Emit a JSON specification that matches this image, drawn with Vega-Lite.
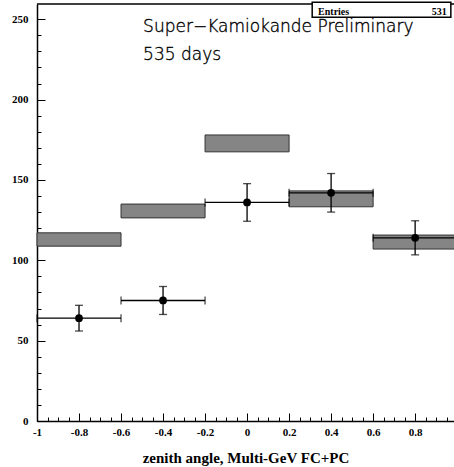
{
  "$schema": "https://vega.github.io/schema/vega-lite/v6.json",
  "width": 417,
  "height": 417,
  "autosize": "none",
  "padding": {"left": 37, "top": 4, "right": 0, "bottom": 46},
  "background": "white",
  "config": {"view": {"stroke": null}, "font": "Liberation Serif"},
  "data": {"values": [
    {"x": -0.8, "lo": -1, "hi": -0.6, "y": 64, "ylo": 56, "yhi": 72, "mclo": 108.8, "mchi": 117.1},
    {"x": -0.4, "lo": -0.6, "hi": -0.2, "y": 75, "ylo": 66.3, "yhi": 83.7, "mclo": 126.4, "mchi": 135},
    {"x": 0, "lo": -0.2, "hi": 0.2, "y": 136, "ylo": 124.3, "yhi": 147.7, "mclo": 167.5, "mchi": 178},
    {"x": 0.4, "lo": 0.2, "hi": 0.6, "y": 142, "ylo": 130, "yhi": 154, "mclo": 133.3, "mchi": 143.2},
    {"x": 0.8, "lo": 0.6, "hi": 1.0, "y": 114, "ylo": 103.4, "yhi": 124.6, "mclo": 107, "mchi": 115.7}
  ]},
  "layer": [
    {
      "mark": {"type": "rect", "fill": "#858585", "stroke": "#333333", "strokeWidth": 1},
      "encoding": {
        "x": {"field": "lo", "type": "quantitative",
          "scale": {"domain": [-1, 0.985], "nice": false, "zero": false},
          "axis": {"orient": "bottom", "values": [-1, -0.8, -0.6, -0.4, -0.2, 0, 0.2, 0.4, 0.6, 0.8],
            "labelExpr": "'' + datum.value", "ticks": false, "grid": false, "domain": true,
            "domainColor": "black", "domainWidth": 1.5, "labelFont": "Liberation Serif", "labelFontWeight": "bold",
            "labelFontSize": 11, "labelColor": "black", "labelPadding": 5, "labelFlush": false, "labelOverlap": false, "labelBound": false,
            "title": "zenith angle, Multi-GeV FC+PC", "titleFont": "Liberation Serif", "titleFontSize": 15,
            "titleFontWeight": "bold", "titleColor": "black", "titlePadding": 13}},
        "x2": {"field": "hi"},
        "y": {"field": "mclo", "type": "quantitative",
          "scale": {"domain": [0, 259.5], "nice": false, "zero": false},
          "axis": {"orient": "left", "values": [0, 50, 100, 150, 200, 250], "ticks": false, "grid": false, "domain": true,
            "domainColor": "black", "domainWidth": 1.5, "labelFont": "Liberation Serif", "labelFontWeight": "bold",
            "labelFontSize": 11, "labelColor": "black", "labelPadding": 9, "labelFlush": false, "labelOverlap": false, "labelBound": false,
            "title": null}},
        "y2": {"field": "mchi"}
      }
    },
    {
      "mark": {"type": "rule", "color": "black", "strokeWidth": 1.3},
      "encoding": {
        "x": {"field": "lo", "type": "quantitative",
          "axis": {"orient": "bottom", "values": [-1, -0.8, -0.6, -0.4, -0.2, 0, 0.2, 0.4, 0.6, 0.8],
            "labels": false, "domain": false, "ticks": true, "tickSize": -8, "tickColor": "black", "tickWidth": 1, "grid": false, "title": null}},
        "x2": {"field": "hi"},
        "y": {"field": "y", "type": "quantitative",
          "axis": {"orient": "left", "values": [0, 50, 100, 150, 200, 250],
            "labels": false, "domain": false, "ticks": true, "tickSize": -8, "tickColor": "black", "tickWidth": 1, "grid": false, "title": null}}
      }
    },
    {
      "mark": {"type": "rule", "color": "black", "strokeWidth": 1.3},
      "encoding": {
        "x": {"field": "x", "type": "quantitative",
          "axis": {"orient": "bottom", "values": [-1, -0.95, -0.9, -0.85, -0.8, -0.75, -0.7, -0.65, -0.6, -0.55, -0.5, -0.45, -0.4, -0.35, -0.3, -0.25, -0.2, -0.15, -0.1, -0.05, 0, 0.05, 0.1, 0.15, 0.2, 0.25, 0.3, 0.35, 0.4, 0.45, 0.5, 0.55, 0.6, 0.65, 0.7, 0.75, 0.8, 0.85, 0.9, 0.95],
            "labels": false, "domain": false, "ticks": true, "tickSize": -4, "tickColor": "black", "tickWidth": 1, "grid": false, "title": null}},
        "y": {"field": "ylo", "type": "quantitative",
          "axis": {"orient": "left", "values": [0, 10, 20, 30, 40, 50, 60, 70, 80, 90, 100, 110, 120, 130, 140, 150, 160, 170, 180, 190, 200, 210, 220, 230, 240, 250],
            "labels": false, "domain": false, "ticks": true, "tickSize": -4, "tickColor": "black", "tickWidth": 1, "grid": false, "title": null}},
        "y2": {"field": "yhi"}
      }
    },
    {
      "mark": {"type": "tick", "orient": "horizontal", "color": "black", "size": 8, "thickness": 1.3},
      "encoding": {
        "x": {"field": "x", "type": "quantitative", "axis": null},
        "y": {"field": "yhi", "type": "quantitative", "axis": null}
      }
    },
    {
      "mark": {"type": "tick", "orient": "horizontal", "color": "black", "size": 8, "thickness": 1.3},
      "encoding": {
        "x": {"field": "x", "type": "quantitative", "axis": null},
        "y": {"field": "ylo", "type": "quantitative", "axis": null}
      }
    },
    {
      "mark": {"type": "tick", "orient": "vertical", "color": "black", "size": 8, "thickness": 1.3},
      "encoding": {
        "x": {"field": "lo", "type": "quantitative", "axis": null},
        "y": {"field": "y", "type": "quantitative", "axis": null}
      }
    },
    {
      "mark": {"type": "tick", "orient": "vertical", "color": "black", "size": 8, "thickness": 1.3},
      "encoding": {
        "x": {"field": "hi", "type": "quantitative", "axis": null},
        "y": {"field": "y", "type": "quantitative", "axis": null}
      }
    },
    {
      "mark": {"type": "point", "shape": "circle", "filled": true, "color": "black", "opacity": 1, "size": 60},
      "encoding": {
        "x": {"field": "x", "type": "quantitative", "axis": null},
        "y": {"field": "y", "type": "quantitative", "axis": null}
      }
    },
    {
      "data": {"values": [{}]},
      "mark": {"type": "rule", "color": "black", "strokeWidth": 1.5},
      "encoding": {
        "x": {"datum": -1, "type": "quantitative", "axis": null},
        "x2": {"datum": 0.985},
        "y": {"datum": 259.5, "type": "quantitative", "axis": null}
      }
    },
    {
      "data": {"values": [{}]},
      "mark": {"type": "rect", "fill": "white", "stroke": "black", "strokeWidth": 1.5},
      "encoding": {
        "x": {"datum": 0.31, "type": "quantitative", "axis": null},
        "x2": {"datum": 0.97},
        "y": {"datum": 260.6, "type": "quantitative", "axis": null},
        "y2": {"datum": 251.2}
      }
    },
    {
      "data": {"values": [{}]},
      "mark": {"type": "text", "text": "Entries", "align": "left", "baseline": "alphabetic", "font": "Liberation Serif", "fontWeight": "bold", "fontSize": 10, "color": "black"},
      "encoding": {
        "x": {"datum": 0.338, "type": "quantitative", "axis": null},
        "y": {"datum": 252.8, "type": "quantitative", "axis": null}
      }
    },
    {
      "data": {"values": [{}]},
      "mark": {"type": "text", "text": "531", "align": "right", "baseline": "alphabetic", "font": "Liberation Serif", "fontWeight": "bold", "fontSize": 10, "color": "black"},
      "encoding": {
        "x": {"datum": 0.951, "type": "quantitative", "axis": null},
        "y": {"datum": 252.8, "type": "quantitative", "axis": null}
      }
    },
    {
      "data": {"values": [{}]},
      "mark": {"type": "text", "text": "Super−Kamiokande Preliminary", "align": "left", "baseline": "alphabetic", "font": "DejaVu Sans", "fontWeight": 200, "fontSize": 17, "color": "black", "stroke": "black", "strokeWidth": 0.35},
      "encoding": {
        "x": {"datum": -0.495, "type": "quantitative", "axis": null},
        "y": {"datum": 242.3, "type": "quantitative", "axis": null}
      }
    },
    {
      "data": {"values": [{}]},
      "mark": {"type": "text", "text": "535 days", "align": "left", "baseline": "alphabetic", "font": "DejaVu Sans", "fontWeight": 200, "fontSize": 17, "color": "black", "stroke": "black", "strokeWidth": 0.35},
      "encoding": {
        "x": {"datum": -0.495, "type": "quantitative", "axis": null},
        "y": {"datum": 224.65, "type": "quantitative", "axis": null}
      }
    }
  ],
  "resolve": {"axis": {"x": "independent", "y": "independent"}}
}
